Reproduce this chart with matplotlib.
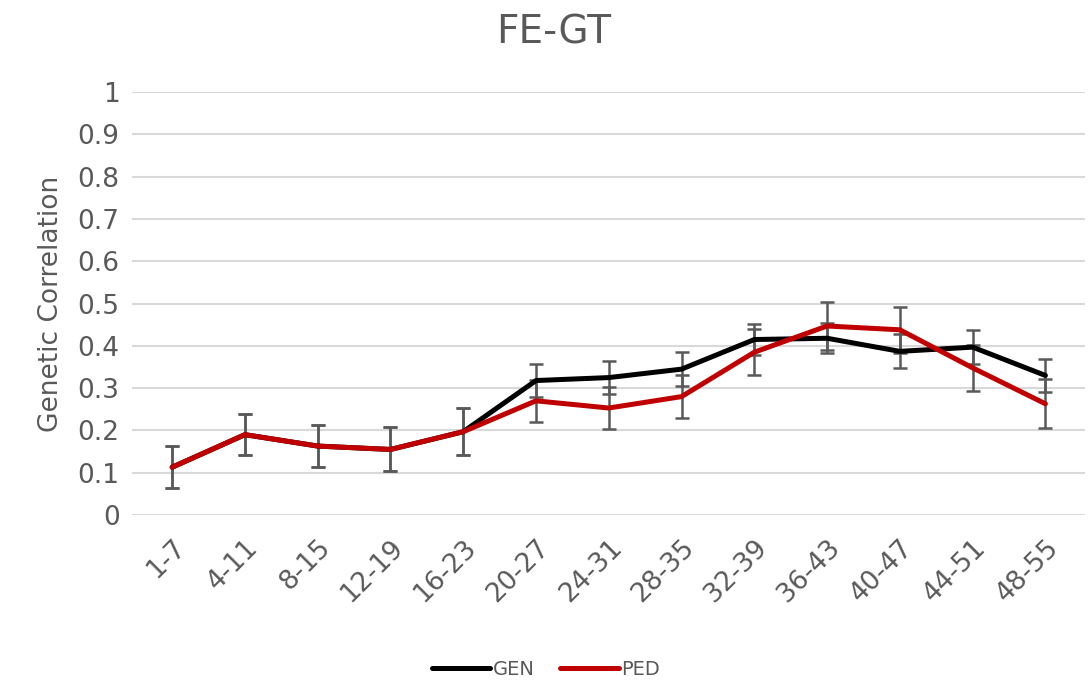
import numpy as np
import matplotlib.pyplot as plt

plt.rcParams['font.family'] = ['DejaVu Sans']

windows = ["1-7", "4-11", "8-15", "12-19", "16-23", "20-27", "24-31",
           "28-35", "32-39", "36-43", "40-47", "44-51", "48-55"]
gen = [0.113, 0.19, 0.163, 0.155, 0.197, 0.318, 0.325, 0.345, 0.415, 0.418, 0.387, 0.397, 0.33]
ped = [0.113, 0.19, 0.163, 0.155, 0.197, 0.27, 0.253, 0.28, 0.385, 0.447, 0.438, 0.348, 0.263]
gen_err = [0.05, 0.048, 0.05, 0.052, 0.055, 0.04, 0.04, 0.04, 0.037, 0.035, 0.04, 0.04, 0.04]
ped_err = [0.05, 0.048, 0.05, 0.052, 0.055, 0.05, 0.05, 0.05, 0.055, 0.057, 0.055, 0.055, 0.058]

grey = '#595959'
x = np.arange(len(windows))

fig = plt.figure(figsize=(10.92, 6.83), dpi=100)
ax = fig.add_axes([0.121, 0.246, 0.873, 0.619])

ax.errorbar(x, gen, yerr=gen_err, fmt='none', ecolor=grey, elinewidth=1.8, capsize=5, capthick=1.8, zorder=2)
ax.errorbar(x, ped, yerr=ped_err, fmt='none', ecolor=grey, elinewidth=1.8, capsize=5, capthick=1.8, zorder=2)
ax.plot(x, gen, color='black', lw=3.6, label='GEN', zorder=3, solid_capstyle='round')
ax.plot(x, ped, color='#c00000', lw=3.6, label='PED', zorder=4, solid_capstyle='round')

ax.set_xlim(-0.55, len(windows) - 0.45)
ax.set_ylim(0, 1)
ax.set_yticks(np.arange(0, 1.01, 0.1))
ax.set_yticklabels(['0', '0.1', '0.2', '0.3', '0.4', '0.5', '0.6', '0.7', '0.8', '0.9', '1'])
ax.set_xticks(x)
ax.set_xticklabels(windows, rotation=45, ha='right', rotation_mode='anchor')
ax.tick_params(axis='both', length=0, labelsize=19, labelcolor=grey, pad=9)
ax.tick_params(axis='x', pad=14)
ax.grid(axis='y', color='#d9d9d9', lw=1.5)
ax.set_axisbelow(True)
for s in ax.spines.values():
    s.set_visible(False)

ax.set_ylabel('Genetic Correlation', fontsize=19, color=grey, labelpad=10)
fig.text(0.507, 0.952, 'FE-GT', fontsize=28, color=grey, ha='center', va='center')

leg = fig.legend(loc='center', bbox_to_anchor=(0.5, 0.02), ncol=2, frameon=False,
                 fontsize=14, handlelength=3, handletextpad=0.15, columnspacing=1.3)
for t in leg.get_texts():
    t.set_color(grey)

fig.savefig('out.png', dpi=100)
